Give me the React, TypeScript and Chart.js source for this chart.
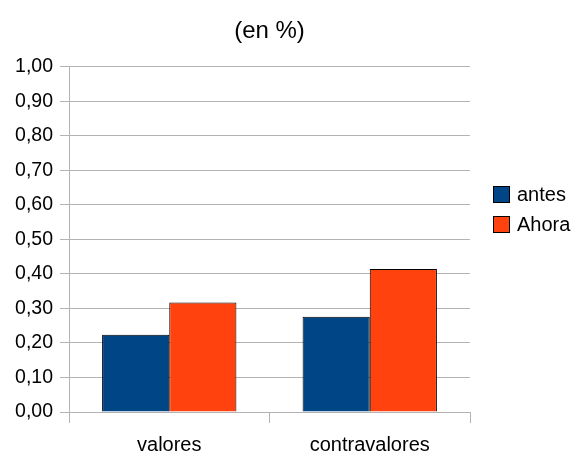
import React, { useEffect, useRef } from "react";
import { Chart, registerables } from "chart.js";

Chart.register(...registerables);

const categories = ["valores", "contravalores"];
const antesValues = [0.224, 0.276];
const ahoraValues = [0.317, 0.414];
const seriesNames = ["antes", "Ahora"];
const seriesColors = ["#004586", "#ff420e"];
const titleText = "(en %)";

const FONT = "'Liberation Sans', Arial, sans-serif";

export default function App() {
  const canvasRef = useRef<HTMLCanvasElement | null>(null);

  useEffect(() => {
    document.body.style.margin = "0";
    const canvas = canvasRef.current;
    if (!canvas) return;
    const chart = new Chart(canvas, {
      type: "bar",
      data: {
        labels: categories,
        datasets: [
          {
            label: seriesNames[0],
            data: antesValues,
            backgroundColor: seriesColors[0],
            borderColor: "#000000",
            borderWidth: 1,
          },
          {
            label: seriesNames[1],
            data: ahoraValues,
            backgroundColor: seriesColors[1],
            borderColor: "#000000",
            borderWidth: 1,
          },
        ],
      },
      options: {
        responsive: false,
        animation: false,
        maintainAspectRatio: false,
        layout: { padding: { left: 0, right: 103, top: 0, bottom: 0 } },
        datasets: {
          bar: { categoryPercentage: 0.67, barPercentage: 1.0 },
        },
        plugins: {
          legend: { display: false },
          tooltip: { enabled: false },
          title: {
            display: true,
            text: titleText,
            fullSize: false,
            color: "#000000",
            font: { family: FONT, size: 24, weight: "normal" },
            padding: { top: 17, bottom: 21 },
          },
        },
        scales: {
          x: {
            grid: {
              offset: true,
              color: "#b3b3b3",
              drawOnChartArea: false,
              tickLength: 11,
            },
            border: { color: "#b3b3b3" },
            ticks: {
              color: "#000000",
              font: { family: FONT, size: 20 },
              padding: 10,
            },
            afterFit: (scale: any) => {
              scale.height = 42;
            },
          },
          y: {
            min: 0,
            max: 1,
            grid: { color: "#b3b3b3", tickLength: 9 },
            border: { color: "#b3b3b3" },
            ticks: {
              stepSize: 0.1,
              color: "#000000",
              font: { family: FONT, size: 19.5 },
              padding: 7,
              callback: (v: any) => Number(v).toFixed(2).replace(".", ","),
            },
            afterFit: (scale: any) => {
              scale.width = 69;
            },
          },
        },
      },
    });
    return () => chart.destroy();
  }, []);

  const legendItem = (name: string, color: string) => (
    <div
      key={name}
      style={{ display: "flex", alignItems: "center", height: 30 }}
    >
      <span
        style={{
          display: "inline-block",
          width: 15,
          height: 15,
          background: color,
          border: "1px solid #000",
          marginRight: 7,
        }}
      />
      <span style={{ fontFamily: FONT, fontSize: 20, color: "#000" }}>
        {name}
      </span>
    </div>
  );

  return (
    <div
      style={{
        position: "fixed",
        left: 0,
        top: 0,
        width: 573,
        height: 454,
        background: "#ffffff",
      }}
    >
      <canvas ref={canvasRef} width={573} height={454} />
      <div style={{ position: "absolute", left: 493, top: 179 }}>
        {seriesNames.map((n, i) => legendItem(n, seriesColors[i]))}
      </div>
    </div>
  );
}
